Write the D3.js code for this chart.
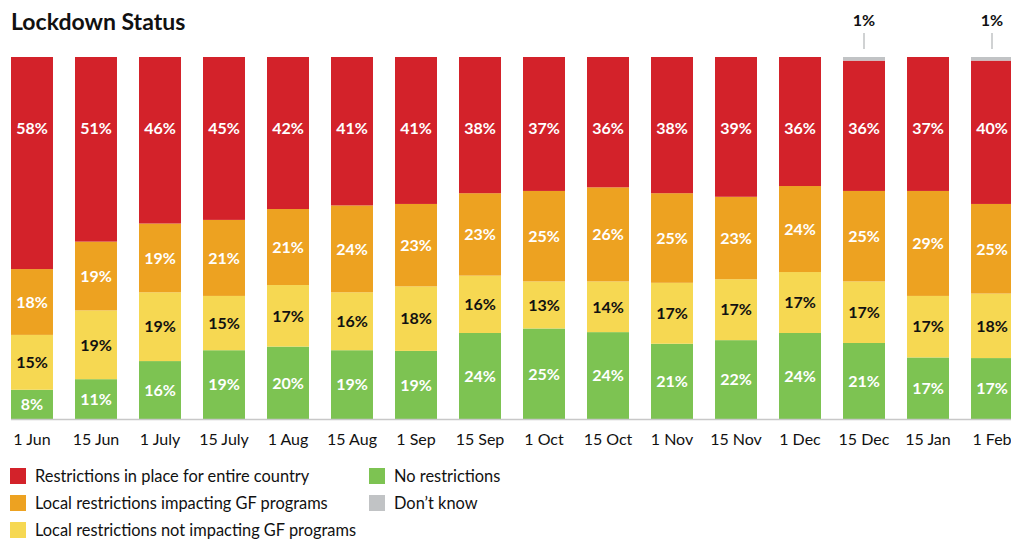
<!DOCTYPE html>
<html>
<head>
<meta charset="utf-8">
<script src="https://cdn.jsdelivr.net/npm/d3@7"></script>
<style>
  body { margin: 0; background: #fff; }
  svg { display: block; font-family: Lato, "Open Sans", sans-serif; }
</style>
</head>
<body>
<svg id="chart" width="1011" height="539"></svg>
<script>
// data (percent of countries)
const dates = ['1 Jun', '15 Jun', '1 July', '15 July', '1 Aug', '15 Aug', '1 Sep', '15 Sep',
  '1 Oct', '15 Oct', '1 Nov', '15 Nov', '1 Dec', '15 Dec', '15 Jan', '1 Feb']
const noRestrictions = [8, 11, 16, 19, 20, 19, 19, 24, 25, 24, 21, 22, 24, 21, 17, 17]
const localNotImpacting = [15, 19, 19, 15, 17, 16, 18, 16, 13, 14, 17, 17, 17, 17, 17, 18]
const localImpacting = [18, 19, 19, 21, 21, 24, 23, 23, 25, 26, 25, 23, 24, 25, 29, 25]
const entireCountry = [58, 51, 46, 45, 42, 41, 41, 38, 37, 36, 38, 39, 36, 36, 37, 40]
const dontKnow = [0, 0, 0, 0, 0, 0, 0, 0, 0, 0, 0, 0, 0, 1, 0, 1]

const series = [
  { key: 'none', label: 'No restrictions', values: noRestrictions, color: '#7dc352', text: '#fff' },
  { key: 'localNot', label: 'Local restrictions not impacting GF programs', values: localNotImpacting, color: '#f6d852', text: '#111' },
  { key: 'local', label: 'Local restrictions impacting GF programs', values: localImpacting, color: '#eda221', text: '#fff' },
  { key: 'entire', label: 'Restrictions in place for entire country', values: entireCountry, color: '#d3222a', text: '#fff' },
  { key: 'unknown', label: 'Don\u2019t know', values: dontKnow, color: '#c1c3c5', text: '#111' }
]

const rows = dates.map((d, i) => {
  const r = { date: d }
  series.forEach(s => r[s.key] = s.values[i])
  return r
})

const svg = d3.select('#chart')

const x = d3.scaleBand().domain(dates).range([11, 1013]).paddingInner(0.344).paddingOuter(0)
const y = d3.scaleLinear().domain([0, 1]).range([419, 57])

const stack = d3.stack().keys(series.map(s => s.key)).offset(d3.stackOffsetExpand)
const stacked = stack(rows)

svg.append('text').attr('x', 11).attr('y', 30)
  .style('font-size', '23px').style('font-weight', 'bold').style('fill', '#111')
  .text('Lockdown Status')

const layers = svg.selectAll('.layer').data(stacked).enter().append('g')
  .attr('class', 'layer').style('fill', (d, i) => series[i].color)

layers.selectAll('rect').data(d => d).enter().append('rect')
  .attr('x', d => x(d.data.date))
  .attr('width', x.bandwidth())
  .attr('y', d => y(d[1]))
  .attr('height', d => y(d[0]) - y(d[1]))

// value labels; the red ones sit at a fixed height near the top
stacked.forEach((layer, i) => {
  const s = series[i]
  if (s.key == 'unknown') return
  svg.selectAll('.lbl-' + s.key).data(layer).enter().append('text')
    .attr('class', 'lbl-' + s.key)
    .attr('x', d => x(d.data.date) + x.bandwidth() / 2)
    .attr('y', d => s.key == 'entire' ? y(1) + 71 : (y(d[0]) + y(d[1])) / 2)
    .attr('dy', '0.36em')
    .attr('text-anchor', 'middle')
    .style('font-size', '16px').style('font-weight', 'bold')
    .style('fill', s.text)
    .text(d => d.data[s.key] + '%')
})

// don't know callouts
const unknownRows = rows.filter(r => r.unknown > 0)
svg.selectAll('.callLine').data(unknownRows).enter().append('line')
  .attr('x1', d => x(d.date) + x.bandwidth() / 2).attr('x2', d => x(d.date) + x.bandwidth() / 2)
  .attr('y1', 33).attr('y2', 49)
  .style('stroke', '#c1c3c5').style('stroke-width', 1.5)
svg.selectAll('.callText').data(unknownRows).enter().append('text')
  .attr('x', d => x(d.date) + x.bandwidth() / 2).attr('y', 26)
  .attr('text-anchor', 'middle')
  .style('font-size', '16px').style('font-weight', 'bold').style('fill', '#111')
  .text(d => d.unknown + '%')

// baseline and date labels
svg.append('line').attr('x1', 11).attr('x2', 1011).attr('y1', 419.5).attr('y2', 419.5)
  .style('stroke', '#c8c8c8').style('stroke-width', 1.5)

svg.selectAll('.dateLabel').data(dates).enter().append('text')
  .attr('x', d => x(d) + x.bandwidth() / 2).attr('y', 445)
  .attr('text-anchor', 'middle')
  .style('font-size', '16px').style('fill', '#111')
  .text(d => d)

// legend
const legendItems = [
  { s: series[3], col: 0, row: 0 },
  { s: series[2], col: 0, row: 1 },
  { s: series[1], col: 0, row: 2 },
  { s: series[0], col: 1, row: 0 },
  { s: series[4], col: 1, row: 1 }
]
const legend = svg.selectAll('.legend').data(legendItems).enter().append('g')
  .attr('class', 'legend')
  .attr('transform', d => `translate(${d.col ? 369 : 10},${468 + d.row * 27})`)
legend.append('rect').attr('width', 16).attr('height', 16).style('fill', d => d.s.color)
legend.append('text').attr('x', 25).attr('y', 8).attr('dy', '0.36em')
  .style('font-size', '16.4px').style('fill', '#111')
  .text(d => d.s.label)
</script>
</body>
</html>
